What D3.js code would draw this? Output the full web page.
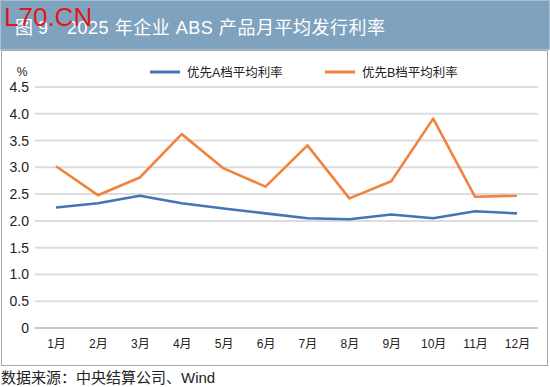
<!DOCTYPE html>
<html>
<head>
<meta charset="utf-8">
<script src="https://cdn.jsdelivr.net/npm/d3@7"></script>
<style>
body { margin: 0; background: #fff; }
text { font-family: "Liberation Sans", "Noto Sans CJK SC", sans-serif; }
</style>
</head>
<body>
<svg id="chart" width="550" height="387"></svg>
<script>
var months = ["1月","2月","3月","4月","5月","6月","7月","8月","9月","10月","11月","12月"];
var seriesA = [2.25, 2.33, 2.47, 2.33, 2.23, 2.14, 2.05, 2.03, 2.12, 2.05, 2.18, 2.14]; // 优先A档
var seriesB = [3.02, 2.48, 2.81, 3.62, 2.98, 2.64, 3.41, 2.42, 2.74, 3.91, 2.45, 2.47]; // 优先B档
var yTicks = [0, 0.5, 1.0, 1.5, 2.0, 2.5, 3.0, 3.5, 4.0, 4.5];
var seriesNames = ["优先A档平均利率", "优先B档平均利率"];

var svg = d3.select("#chart");
var colA = "#4274b6", colB = "#f0843f";

// title bar
svg.append("rect").attr("x", 0.5).attr("y", 0.5).attr("width", 549).attr("height", 49)
  .attr("fill", "#7fa3bf").attr("stroke", "#a9bfd0");
svg.append("text").attr("x", 15).attr("y", 34).attr("fill", "#fff")
  .attr("font-size", 18).text("图 9");
svg.append("text").attr("x", 67).attr("y", 34).attr("fill", "#fff")
  .attr("font-size", 18).attr("textLength", 318).text("2025 年企业 ABS 产品月平均发行利率");

// chart frame
svg.append("rect").attr("x", 1.5).attr("y", 50.5).attr("width", 546).attr("height", 315)
  .attr("fill", "#fff").attr("stroke", "#a6a6a6");

var x = d3.scalePoint().domain(months).range([56, 517]);
var y = d3.scaleLinear().domain([0, 4.5]).range([328, 87]);

// grid
svg.append("g").selectAll("line").data(yTicks).enter().append("line")
  .attr("x1", 35).attr("x2", 538)
  .attr("y1", function(d){ return y(d); }).attr("y2", function(d){ return y(d); })
  .attr("stroke", function(d){ return d == 0 ? "#c8c8c8" : "#dcdcdc"; })
  .attr("stroke-width", 2);

// y labels
var yAxis = d3.axisLeft(y).tickValues(yTicks).tickSize(0).tickPadding(0)
  .tickFormat(function(d){ return d == 0 ? "0" : d3.format(".1f")(d); });
var gy = svg.append("g").attr("transform", "translate(29,0)").call(yAxis);
gy.select(".domain").remove();
gy.selectAll("text").attr("font-size", 14).attr("fill", "#222").attr("font-family", null);

svg.append("text").attr("x", 22).attr("y", 76).attr("font-size", 12).attr("fill", "#222")
  .attr("text-anchor", "middle").text("%");

// x labels
var xAxis = d3.axisBottom(x).tickSize(0).tickPadding(0);
var gx = svg.append("g").attr("transform", "translate(0,339)").call(xAxis);
gx.select(".domain").remove();
gx.selectAll("text").attr("font-size", 12).attr("fill", "#222").attr("font-family", null);

// lines
var line = d3.line().x(function(d, i){ return x(months[i]); }).y(function(d){ return y(d); });
svg.append("path").datum(seriesB).attr("d", line).attr("fill", "none")
  .attr("stroke", colB).attr("stroke-width", 2.6).attr("stroke-linejoin", "round");
svg.append("path").datum(seriesA).attr("d", line).attr("fill", "none")
  .attr("stroke", colA).attr("stroke-width", 2.6).attr("stroke-linejoin", "round");

// legend
var legX = [150, 325];
var legCols = [colA, colB];
seriesNames.forEach(function(name, i){
  svg.append("line").attr("x1", legX[i]).attr("x2", legX[i] + 30)
    .attr("y1", 72).attr("y2", 72).attr("stroke", legCols[i]).attr("stroke-width", 3);
  svg.append("text").attr("x", legX[i] + 37).attr("y", 76.5).attr("font-size", 12.5)
    .attr("fill", "#222").text(name);
});

// source
svg.append("text").attr("x", 1).attr("y", 383).attr("font-size", 15).attr("fill", "#222")
  .text("数据来源：中央结算公司、Wind");

// watermark
svg.append("text").attr("x", 4).attr("y", 26).attr("font-size", 26).attr("fill", "#e01818")
  .text("L70.CN");
</script>
</body>
</html>
